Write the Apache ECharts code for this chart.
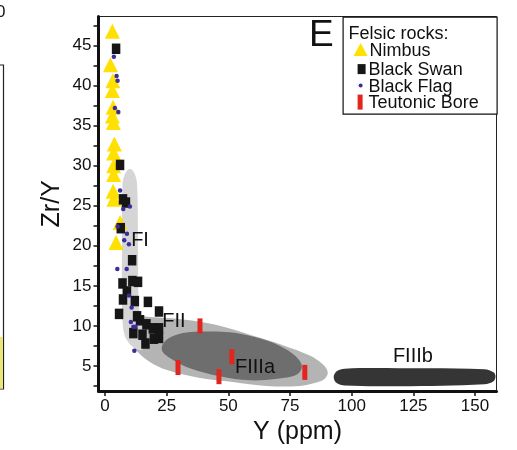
<!DOCTYPE html>
<html>
<head>
<meta charset="utf-8">
<script src="https://cdn.jsdelivr.net/npm/echarts@6/dist/echarts.min.js"></script>
<style>
  html, body { margin: 0; padding: 0; background: #fff; }
  #chart { width: 517px; height: 450px; }
</style>
</head>
<body>
<div id="chart"></div>
<script>
// Zr/Y against Y (ppm) for the felsic rock suites, over the FI–FIIIb fields.

// Point data: [Y (ppm), Zr/Y]
const nimbus = [
  [3.0, 46.8], [2.2, 42.6], [3.2, 40.6], [3.0, 39.4], [3.3, 37.3], [3.0, 36.2],
  [3.4, 35.4], [3.8, 32.7], [3.5, 31.6], [3.5, 30.0], [3.5, 28.9], [3.3, 26.8],
  [3.6, 25.8], [6.1, 22.9], [4.5, 20.4]
];
const blackSwan = [
  [4.5, 44.6], [6.1, 30.1], [7.3, 25.8], [8.5, 25.4], [6.4, 22.2], [11.0, 18.2],
  [7.1, 15.3], [11.1, 15.6], [13.4, 15.5], [8.9, 14.3], [7.3, 13.3], [12.1, 13.1],
  [17.4, 13.0], [5.7, 11.5], [13.0, 11.2], [21.9, 11.8], [14.2, 10.7], [16.8, 10.2],
  [19.4, 9.7], [21.9, 9.7], [21.9, 8.5], [11.5, 9.1], [15.2, 8.9], [16.4, 7.8],
  [19.8, 8.4]
];
const blackFlag = [
  [3.6, 43.6], [4.7, 41.2], [5.1, 40.6], [4.0, 37.2], [5.4, 36.7], [6.1, 26.9],
  [7.4, 24.6], [10.1, 24.9], [5.1, 22.4], [8.9, 21.5], [7.8, 20.7], [9.7, 20.2],
  [5.0, 17.1], [8.8, 17.1], [9.7, 13.8], [10.8, 12.3], [10.5, 10.5], [11.5, 9.9],
  [12.4, 9.9], [11.9, 6.9]
];
const teutonicBore = [[38.5, 10.0], [51.4, 6.15], [29.6, 4.8], [46.2, 3.66], [81.0, 4.2]];

// Field outlines in data units
const fieldFII = [
  [13.0, 11.2], [18.2, 11.1], [31.6, 10.8], [45.3, 10.1], [58.7, 8.9], [72.1, 7.6],
  [83.0, 6.3], [88.3, 5.2], [90.3, 4.2], [89.1, 3.4], [85.4, 2.9], [78.9, 2.5],
  [65.6, 2.5], [51.8, 3.0], [38.5, 3.5], [25.1, 4.5], [18.2, 5.5], [13.4, 6.7],
  [10.1, 8.2], [10.1, 9.9]
];
const fieldFI = [
  [10.1, 29.6], [11.9, 29.1], [13.0, 27.7], [13.4, 19.6], [13.6, 13.4], [14.6, 10.7],
  [17.0, 8.4], [15.0, 7.0], [10.5, 7.6], [7.7, 9.1], [6.9, 13.4], [6.9, 19.6],
  [7.1, 27.7], [8.3, 29.1]
];
const fieldFIIIa = [
  [23.1, 7.5], [25.5, 8.4], [31.6, 9.1], [40.5, 9.3], [50.6, 9.2], [60.7, 8.6],
  [70.9, 7.5], [77.3, 6.2], [79.8, 5.0], [78.1, 4.0], [72.1, 3.5], [58.7, 3.2],
  [46.6, 3.7], [34.4, 4.7], [26.3, 6.0], [23.5, 6.7]
];
const fieldFIIIb = [
  [92.7, 3.6], [93.9, 4.35], [97.2, 4.66], [119.4, 4.72], [153.8, 4.6], [157.5, 4.2],
  [158.3, 3.7], [157.5, 3.1], [153.8, 2.73], [119.4, 2.48], [97.2, 2.55], [93.9, 2.86]
];
const fieldNames = ['FII', 'FI', 'FIIIa', 'FIIIb'];
const fieldOutlines = [fieldFII, fieldFI, fieldFIIIa, fieldFIIIb];

// Field name anchors (left edge, vertical middle)
const fieldLabelNames = ['FI', 'FII', 'FIIIa', 'FIIIb'];
const fieldLabelAnchors = [[10.6, 20.7], [23.2, 10.56], [52.7, 4.84], [116.7, 6.15]];

// Axis ticks
const xTickValues = [0, 25, 50, 75, 100, 125, 150];
const yLabelValues = [5, 10, 15, 20, 25, 30, 35, 40, 45];
const yTickValues = [2.5, 5, 7.5, 10, 12.5, 15, 17.5, 20, 22.5, 25, 27.5, 30, 32.5, 35, 37.5, 40, 42.5, 45, 47.5];

const legendTitle = 'Felsic rocks:';
const seriesNames = ['Nimbus', 'Black Swan', 'Black Flag', 'Teutonic Bore'];

// ---- styles ----
const FONT = '"Liberation Sans", Arial, Helvetica, sans-serif';
const INK = '#111';
const fieldFill = { FI: '#d5d5d5', FII: '#b4b4b4', FIIIa: '#6e6e6e', FIIIb: '#353535' };
const markColor = { nimbus: '#FFE000', swan: '#161616', flag: '#3b2d9c', bore: '#e2261f' };

const chart = echarts.init(document.getElementById('chart'), null, { renderer: 'canvas' });

const legendX = 342.5, legendY = 16.5;
const legendRows = [49.5, 68.5, 85, 101.5];

const option = {
  animation: false,
  backgroundColor: '#fff',
  grid: {
    left: 98.5, right: 20.5, top: 16.5, bottom: 57,
    show: true, borderColor: '#222', borderWidth: 1, backgroundColor: 'transparent'
  },
  xAxis: {
    type: 'value', min: -2.63, max: 158.7,
    name: 'Y (ppm)', nameLocation: 'middle', nameGap: 19,
    nameTextStyle: { fontFamily: FONT, fontSize: 25, color: INK },
    axisLine: { show: true, onZero: false, lineStyle: { color: INK, width: 3 } },
    axisTick: { show: true, inside: false, length: 5, customValues: xTickValues, lineStyle: { color: INK, width: 1.5 } },
    axisLabel: { customValues: xTickValues, margin: 7, fontFamily: FONT, fontSize: 17, color: INK },
    splitLine: { show: false }
  },
  yAxis: {
    type: 'value', min: 1.86, max: 48.63,
    name: 'Zr/Y', nameLocation: 'middle', nameGap: 34, nameMoveOverlap: false,
    nameTextStyle: { fontFamily: FONT, fontSize: 25, color: INK },
    axisLine: { show: true, onZero: false, lineStyle: { color: INK, width: 3 } },
    axisTick: { show: true, inside: false, length: 5, customValues: yTickValues, lineStyle: { color: INK, width: 1.5 } },
    axisLabel: { customValues: yLabelValues, margin: 7, fontFamily: FONT, fontSize: 17, color: INK },
    splitLine: { show: false }
  },
  series: [
    {
      type: 'custom', name: 'fields', silent: true, clip: true,
      data: fieldOutlines.map(o => o[0]),
      renderItem: (params, api) => {
        const pts = fieldOutlines[params.dataIndex].map(p => api.coord(p));
        return {
          type: 'polygon',
          shape: { points: pts, smooth: 0.35 },
          style: { fill: fieldFill[fieldNames[params.dataIndex]], stroke: null }
        };
      }
    },
    {
      type: 'custom', name: 'fieldLabels', silent: true,
      data: fieldLabelAnchors,
      renderItem: (params, api) => {
        const c = api.coord([api.value(0), api.value(1)]);
        return {
          type: 'text', x: c[0], y: c[1], z2: 5,
          style: {
            text: fieldLabelNames[params.dataIndex],
            font: '20px ' + FONT, fill: INK, align: 'left', verticalAlign: 'middle'
          }
        };
      }
    },
    { type: 'scatter', name: seriesNames[0], data: nimbus, symbol: 'triangle', symbolSize: [15, 15],
      itemStyle: { color: markColor.nimbus, opacity: 1 } },
    { type: 'scatter', name: seriesNames[1], data: blackSwan, symbol: 'rect', symbolSize: [8.5, 10.5],
      itemStyle: { color: markColor.swan, opacity: 1 } },
    { type: 'scatter', name: seriesNames[2], data: blackFlag, symbol: 'circle', symbolSize: 4.5,
      itemStyle: { color: markColor.flag, opacity: 1 } },
    { type: 'scatter', name: seriesNames[3], data: teutonicBore, symbol: 'rect', symbolSize: [5, 15],
      itemStyle: { color: markColor.bore, opacity: 1 } }
  ],
  graphic: [
    // panel letter
    { type: 'text', left: 309, top: 17, z: 10,
      style: { text: 'E', font: '37px ' + FONT, fill: INK } },
    // legend box
    { type: 'group', left: legendX, top: legendY, z: 20, children: [
      { type: 'rect', shape: { x: 0, y: 0, width: 154, height: 97 },
        style: { fill: '#fff', stroke: INK, lineWidth: 1.2 } },
      { type: 'text', x: 5.5, y: 16.5, style: { text: legendTitle, font: '18px ' + FONT, fill: INK, verticalAlign: 'middle' } },
      { type: 'polygon', shape: { points: [[17.5, legendRows[0] - legendY - 7], [10.5, legendRows[0] - legendY + 6], [24.5, legendRows[0] - legendY + 6]] },
        style: { fill: markColor.nimbus } },
      { type: 'text', x: 26.5, y: legendRows[0] - legendY + 1, style: { text: seriesNames[0], font: '18px ' + FONT, fill: INK, verticalAlign: 'middle' } },
      { type: 'rect', shape: { x: 14.5, y: legendRows[1] - legendY - 5, width: 8, height: 10 },
        style: { fill: markColor.swan } },
      { type: 'text', x: 25.5, y: legendRows[1] - legendY + 1, style: { text: seriesNames[1], font: '18px ' + FONT, fill: INK, verticalAlign: 'middle' } },
      { type: 'circle', shape: { cx: 17.5, cy: legendRows[2] - legendY, r: 2 },
        style: { fill: markColor.flag } },
      { type: 'text', x: 25.5, y: legendRows[2] - legendY + 1, style: { text: seriesNames[2], font: '18px ' + FONT, fill: INK, verticalAlign: 'middle' } },
      { type: 'rect', shape: { x: 14.5, y: legendRows[3] - legendY - 7.5, width: 5, height: 15 },
        style: { fill: markColor.bore } },
      { type: 'text', x: 25.5, y: legendRows[3] - legendY + 1, style: { text: seriesNames[3], font: '18px ' + FONT, fill: INK, verticalAlign: 'middle' } }
    ] },
    // edge of the neighbouring panel
    { type: 'text', left: -4, top: 4, style: { text: '0', font: '17px ' + FONT, fill: INK } },
    { type: 'rect', shape: { x: -6, y: 65, width: 9.5, height: 324 },
      style: { fill: null, stroke: '#222', lineWidth: 1.2 } },
    { type: 'rect', shape: { x: 0, y: 337, width: 3, height: 51.5 },
      style: { fill: '#ebe67a' } }
  ]
};

chart.setOption(option);
</script>
</body>
</html>
